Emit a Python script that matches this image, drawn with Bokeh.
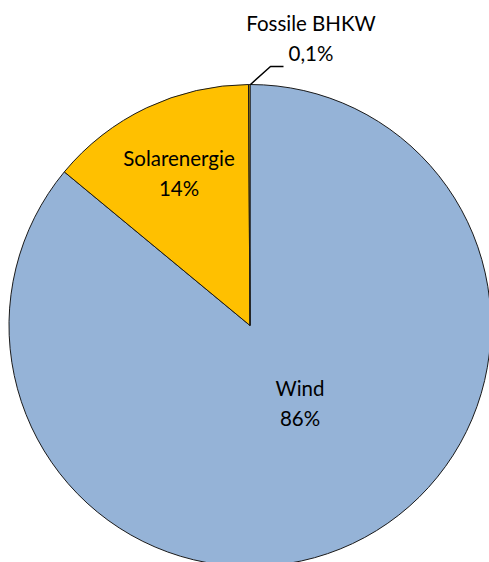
import math
from bokeh.plotting import figure
from bokeh.models import Range1d, ColumnDataSource
from bokeh.core.properties import value
from bokeh.embed import file_html
from bokeh.resources import INLINE

categories = ["Wind", "Solarenergie", "Fossile BHKW"]
shares = [86.0, 13.9, 0.1]
labels = ["86%", "14%", "0,1%"]
colors = ["#95B3D7", "#FFC000", "#FFC000"]

W, H = 489, 562
p = figure(width=W, height=H, output_backend="svg", toolbar_location=None,
           x_range=Range1d(0, W), y_range=Range1d(-H, 0),
           min_border=0)
p.axis.visible = False
p.grid.visible = False
p.outline_line_color = None
p.background_fill_color = "white"

cx, cy, r = 249.5, -325, 241
total = sum(shares)
starts, ends = [], []
a = math.pi / 2
for s in shares:
    starts.append(a)
    a -= s / total * 2 * math.pi
    ends.append(a)

src = ColumnDataSource(dict(start=starts, end=ends, color=colors, cat=categories))
p.wedge(x=cx, y=cy, radius=r, start_angle="start", end_angle="end", direction="clock",
        fill_color="color", line_color="#1a1a1a", line_width=1, source=src)

font = value("Lato")
fs = "20.5px"
# label positions (offsets from centre, px)
lab_pos = {"Wind": (50, -62), "Solarenergie": (-71, 168), "Fossile BHKW": (61, 303)}
for cat, lab in zip(categories, labels):
    dx, dy = lab_pos[cat]
    p.text(x=[cx + dx], y=[cy + dy], text=[cat], text_font=font, text_font_size=fs,
           text_align="center", text_baseline="middle", text_color="black")
    p.text(x=[cx + dx], y=[cy + dy - 30], text=[lab], text_font=font, text_font_size=fs,
           text_align="center", text_baseline="middle", text_color="black")

# leader line for the tiny slice
p.line(x=[cx + 0.5, cx + 20.5, cx + 33.5], y=[cy + r, cy + r + 18, cy + r + 18],
       line_color="black", line_width=1.5)

open("out.html", "w").write(file_html(p, INLINE))
